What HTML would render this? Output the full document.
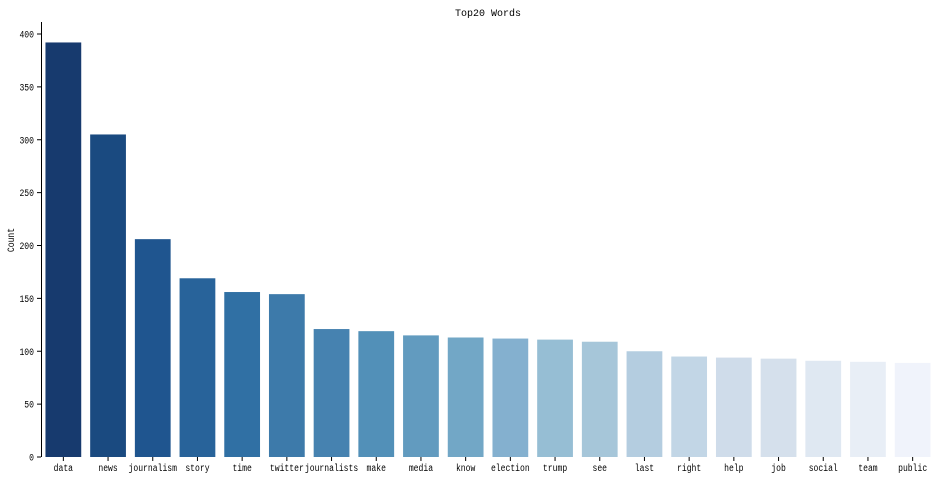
<!DOCTYPE html>
<html><head><meta charset="utf-8"><style>
body{margin:0;background:#fff;}
svg text{font-family:"Liberation Mono",monospace;font-size:10px;fill:#000;}
</style></head><body>
<svg id="chart" width="944" height="479" xmlns="http://www.w3.org/2000/svg"></svg>
<script>
const categories=["data","news","journalism","story","time","twitter","journalists","make","media","know","election","trump","see","last","right","help","job","social","team","public"];
const counts=[392,305,206,169,156,154,121,119,115,113,112,111,109,100,95,94,93,91,90,89];
const yTicks=[0,50,100,150,200,250,300,350,400];
const colors=["#173a6e","#1a4a80","#1f558f","#28639a","#3070a4","#3d7aaa","#4682b0","#5290b8","#629bbf","#72a7c6","#84b0cf","#96bed4","#a6c6d9","#b4cde0","#c2d6e6","#cfdcea","#d5e0ec","#dfe8f2","#e8eef6","#f0f3fb"];
const svg=document.getElementById('chart');
const NS="http://www.w3.org/2000/svg";
const x0=41,x1=935,y0=457,pxPerUnit=423/400;
const step=(x1-x0)/categories.length,bw=step*0.8;
const xPos=i=>x0+step*i+(step-bw)/2;
const yPos=v=>y0-v*pxPerUnit;
const CW=4.85;
function mk(tag,attrs,text){const e=document.createElementNS(NS,tag);for(const k in attrs)e.setAttribute(k,attrs[k]);if(text!==undefined){e.textContent=text;if(tag==='text'){e.setAttribute('textLength',text.length*CW);e.setAttribute('lengthAdjust','spacingAndGlyphs');}}svg.appendChild(e);return e;}
categories.forEach((c,i)=>{
  const r=mk('rect',{x:xPos(i),y:yPos(counts[i]),width:bw,height:counts[i]*pxPerUnit,fill:colors[i]});
  
  
  const cx=xPos(i)+bw/2;
  const t=mk('line',{x1:cx,x2:cx,y1:y0,y2:y0+4,stroke:'#000','stroke-width':1});
  
  
  const l=mk('text',{x:cx,y:y0+14,'text-anchor':'middle'},c);
  
  
});
yTicks.forEach(v=>{
  const y=yPos(v);
  const t=mk('line',{x1:x0-4,x2:x0,y1:y,y2:y,stroke:'#000','stroke-width':1});
  
  
  const l=mk('text',{x:x0-7,y:y+3.5,'text-anchor':'end'},String(v));
  
  
});
const ax=mk('line',{x1:x0+0.5,x2:x0+0.5,y1:22,y2:y0,stroke:'#000','stroke-width':1});


const title=mk('text',{x:488,y:16,'text-anchor':'middle','font-size':'12'});
title.textContent='Top20 Words';
title.setAttribute('textLength',66);
title.setAttribute('lengthAdjust','spacingAndGlyphs');


const yt=mk('text',{x:14,y:240,'text-anchor':'middle',transform:'rotate(-90 14 240)'},'Count');


</script>
</body></html>
